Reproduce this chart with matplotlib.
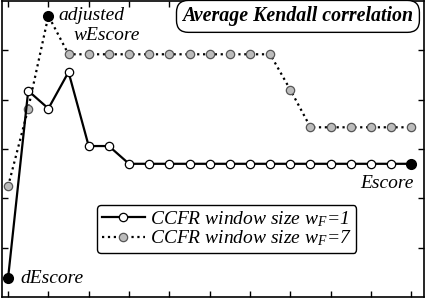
import matplotlib
matplotlib.use("Agg")
import matplotlib.pyplot as plt
import numpy as np

plt.rcParams['font.family'] = ['Liberation Serif', 'DejaVu Serif']
plt.rcParams['mathtext.fontset'] = 'custom'
plt.rcParams['mathtext.rm'] = 'Liberation Serif'
plt.rcParams['mathtext.it'] = 'Liberation Serif:italic'

# data
steps = np.arange(21)
ccfr_w1 = [0.569, 0.759, 0.741, 0.778, 0.703, 0.703] + [0.685] * 15
ccfr_w7 = [0.662, 0.741, 0.835] + [0.796] * 11 + [0.760] + [0.722] * 6

fig = plt.figure(figsize=(4.26, 2.99), dpi=100)
ax = fig.add_axes([2/426, 2/299, 422/426, 296/299])

ax.plot(steps, ccfr_w1, '-o', color='black', lw=1.6, ms=6,
        mfc='white', mec='black', mew=0.9, label='CCFR window size $w_{F}$=1', zorder=3)
ax.plot(steps, ccfr_w7, ':o', color='black', lw=1.6, ms=6,
        mfc='#bcbcbc', mec='#555555', mew=0.9, label='CCFR window size $w_{F}$=7', zorder=2)

# highlighted end points
ax.plot(steps[0], ccfr_w1[0], 'o', color='black', ms=7, zorder=4)
ax.plot(steps[-1], ccfr_w1[-1], 'o', color='black', ms=7, zorder=4)
ax.plot(steps[2], ccfr_w7[2], 'o', color='black', ms=7, zorder=4)

ax.annotate('dEscore', (steps[0], ccfr_w1[0]), xytext=(9, 0), textcoords='offset points',
            fontsize=14, style='italic', va='center')
ax.annotate('adjusted', (steps[2], ccfr_w7[2]), xytext=(7, 0), textcoords='offset points',
            fontsize=14, style='italic', va='center')
ax.annotate('wEscore', (steps[2], ccfr_w7[2]), xytext=(18, -14), textcoords='offset points',
            fontsize=14, style='italic', va='center')
ax.annotate('Escore', (steps[-1], ccfr_w1[-1]), xytext=(2, -14), textcoords='offset points',
            fontsize=14, style='italic', va='center', ha='right')

ax.text(0.975, 0.948, 'Average Kendall correlation', transform=ax.transAxes,
        fontsize=14.3, style='italic', weight='bold', ha='right', va='center',
        bbox=dict(boxstyle='round,pad=0.3,rounding_size=0.6', fc='white', ec='black', lw=1))

leg = ax.legend(loc='lower center', bbox_to_anchor=(0.533, 0.15), borderaxespad=0,
                prop={'style': 'italic', 'size': 14}, frameon=True, fancybox=True,
                handlelength=2.2, handletextpad=0.3, borderpad=0.22, labelspacing=0.0)
leg.get_frame().set_edgecolor('black')
leg.get_frame().set_linewidth(1)
leg.get_frame().set_alpha(1)

ax.set_xlim(-0.3, 20.63)
ax.set_ylim(0.55, 0.85)
ax.set_xticks(np.arange(0, 21, 2))
ax.set_yticks(np.arange(0.60, 0.81, 0.05))
ax.tick_params(direction='in', length=4, width=1, top=True, right=True,
               labelbottom=False, labelleft=False)
for s in ax.spines.values():
    s.set_linewidth(1.2)

fig.savefig('out.png', dpi=100)
